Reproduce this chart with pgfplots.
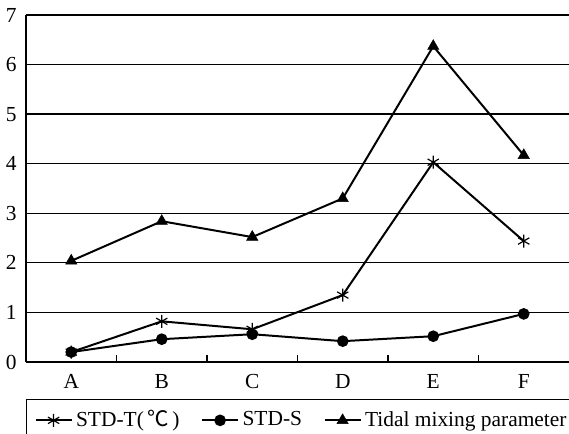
\documentclass[border=0pt]{standalone}
\usepackage{fontspec}
\setmainfont{Liberation Serif}
\newfontfamily\cjk{Noto Sans CJK SC}
\usepackage{pgfplots}
\pgfplotsset{compat=1.18}
\begin{document}
\fontsize{21.5}{25}\selectfont
\begin{tikzpicture}
\begin{axis}[
  scale only axis, width=543bp, height=347bp,
  xmin=-0.5, xmax=5.5, ymin=0, ymax=7,
  axis x line*=bottom, axis y line*=left,
  axis line style={line width=1.3pt, -},
  xtick={0,1,2,3,4,5}, xticklabels={A,B,C,D,E,F},
  minor xtick={0.5,1.5,2.5,3.5,4.5},
  major x tick style={draw=none},
  minor tick length=7bp,
  minor x tick style={line width=1.2pt, black},
  ytick={0,1,...,7}, major y tick style={draw=none},
  ymajorgrids, grid style={line width=1.3pt, black},
  /pgf/number format/assume math mode=true,
  tick label style={font=\fontsize{21.5}{25}\selectfont},
  xticklabel style={yshift=-5bp},
  yticklabel style={xshift=-2bp},
  legend columns=3,
  legend style={at={(0,-37bp)}, anchor=north west, draw=black, line width=1.2pt,
    font=\fontsize{21.5}{25}\selectfont, inner xsep=8bp, inner ysep=9bp,
    /tikz/every even column/.append style={column sep=18bp},
    nodes={inner xsep=3.5bp}},
  legend image code/.code={\draw[mark repeat=2,mark phase=2,#1] plot coordinates {(0bp,0bp)(18bp,0bp)(36bp,0bp)};},
  every axis plot/.append style={line width=2pt, black},
  clip=false,
]
\addplot[mark=asterisk, mark size=6.5bp, mark options={line width=1.2pt}] coordinates {(0,0.2)(1,0.82)(2,0.66)(3,1.35)(4,4.03)(5,2.44)};
\addlegendentry{STD-T({\cjk\,℃\,})}
\addplot[mark=*, mark size=4.8bp] coordinates {(0,0.2)(1,0.46)(2,0.56)(3,0.42)(4,0.52)(5,0.97)};
\addlegendentry{STD-S}
\addplot[mark=triangle*, mark size=6.5bp, mark options={line width=0.5pt}] coordinates {(0,2.04)(1,2.84)(2,2.52)(3,3.3)(4,6.37)(5,4.17)};
\addlegendentry{Tidal mixing parameter\hspace{10bp}}
\coordinate (sw) at (rel axis cs:0,0);
\coordinate (ne) at (rel axis cs:1,1);
\end{axis}
\pgfresetboundingbox
\useasboundingbox ([xshift=-26bp,yshift=-72bp]sw) rectangle ([yshift=15bp]ne);
\end{tikzpicture}
\end{document}
